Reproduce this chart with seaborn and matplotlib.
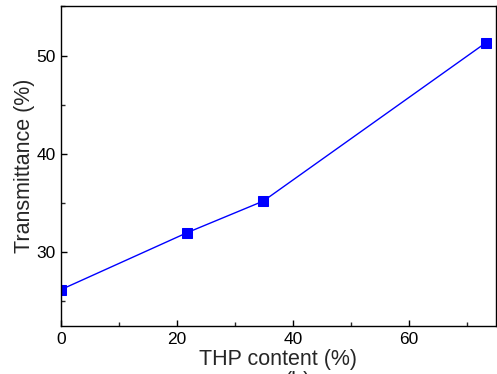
import matplotlib
matplotlib.use("Agg")
import matplotlib.pyplot as plt
from matplotlib.ticker import MultipleLocator
import seaborn as sns
import pandas as pd

thp_content = [0, 21.8, 34.9, 73.3]
transmittance = [26.2, 32.0, 35.2, 51.3]

sns.set_theme(style="ticks")
plt.rcParams["font.family"] = ["Liberation Sans", "DejaVu Sans"]

df = pd.DataFrame({"THP content (%)": thp_content, "Transmittance (%)": transmittance})

fig = plt.figure(figsize=(4.97, 3.74), dpi=100)
ax = fig.add_axes([0.1227, 0.1283, 0.8747, 0.8547])

sns.lineplot(data=df, x="THP content (%)", y="Transmittance (%)", ax=ax,
             color="#0000ff", linewidth=1.0, marker="s", markersize=6.5,
             markeredgecolor="#0000ff", markerfacecolor="#0000ff")

ax.set_xlim(0, 75)
ax.set_ylim(22.5, 55)
ax.xaxis.set_major_locator(MultipleLocator(20))
ax.xaxis.set_minor_locator(MultipleLocator(10))
ax.yaxis.set_major_locator(MultipleLocator(10))
ax.yaxis.set_minor_locator(MultipleLocator(5))
ax.tick_params(which="major", direction="in", length=4, width=1, labelsize=12.5,
               colors="black", pad=4)
ax.tick_params(which="minor", direction="in", length=3, width=1)
for s in ax.spines.values():
    s.set_linewidth(1.0)
    s.set_color("black")

ax.set_xlabel("THP content (%)", fontsize=15.5, labelpad=2)
ax.set_ylabel("Transmittance (%)", fontsize=15.5, labelpad=1)

# panel tag sitting at the lower edge of the figure
fig.text(0.60, -0.047, "(b)", fontsize=15.5, ha="center", va="bottom")

fig.savefig("out.png", dpi=100)
